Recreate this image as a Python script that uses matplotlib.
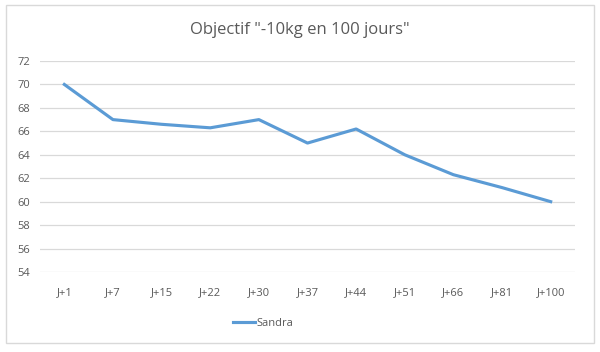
import matplotlib.pyplot as plt
from matplotlib.patches import Rectangle

# Données
jours = ['J+1', 'J+7', 'J+15', 'J+22', 'J+30', 'J+37', 'J+44', 'J+51', 'J+66', 'J+81', 'J+100']
poids_sandra = [70, 67, 66.6, 66.3, 67, 65, 66.2, 64, 62.3, 61.2, 60]
graduations_y = list(range(54, 73, 2))

gris_texte = '#595959'
plt.rcParams['font.family'] = ['Open Sans', 'DejaVu Sans']

fig = plt.figure(figsize=(6, 3.52), dpi=100)
fig.patch.set_facecolor('white')

# cadre du graphique
fig.patches.append(Rectangle((6 / 600, 1 - 343 / 352), 588 / 600, 338 / 352,
                             transform=fig.transFigure, fill=False,
                             edgecolor='#D9D9D9', linewidth=1))

ax = fig.add_axes([40 / 600, 1 - 272 / 352, 535 / 600, 211 / 352])
x = range(len(jours))
ax.plot(x, poids_sandra, color='#5B9BD5', linewidth=2.25, label='Sandra',
        solid_joinstyle='round')

ax.set_xlim(-0.5, len(jours) - 0.5)
ax.set_ylim(54, 72)
ax.set_yticks(graduations_y)
ax.set_xticks(list(x))
ax.set_xticklabels(jours)
ax.grid(True, axis='y', color='#D9D9D9', linewidth=0.9)
ax.set_axisbelow(True)
for s in ax.spines.values():
    s.set_visible(False)
ax.tick_params(length=0, labelsize=8, colors=gris_texte)
ax.tick_params(axis='x', pad=11)
ax.tick_params(axis='y', pad=7)

fig.text(0.5, 1 - 30 / 352, 'Objectif "-10kg en 100 jours"', ha='center', va='center',
         fontsize=12, color=gris_texte)

fig.legend(loc='center', bbox_to_anchor=(263 / 600, 1 - 323 / 352), frameon=False,
           fontsize=8, labelcolor=gris_texte, handlelength=2.0, handletextpad=0.1)

plt.savefig('out.png', dpi=100)
